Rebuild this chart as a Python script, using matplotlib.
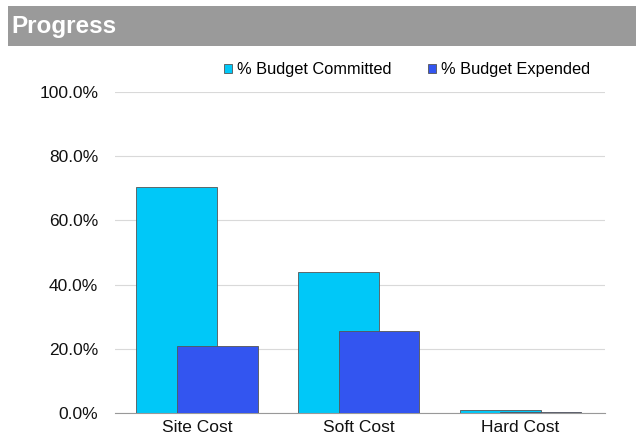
import numpy as np
from matplotlib import pyplot as plt
from matplotlib.patches import Rectangle
from matplotlib.ticker import PercentFormatter

plt.rcParams['font.family'] = ['Liberation Sans', 'DejaVu Sans']

categories = ["Site Cost", "Soft Cost", "Hard Cost"]
committed = [0.704, 0.439, 0.010]
expended = [0.209, 0.255, 0.003]

fig = plt.figure(figsize=(6.44, 4.42), dpi=100)

# grey title bar
fig.patches.append(Rectangle((0.0124, 0.896), 0.975, 0.0905, transform=fig.transFigure,
                             facecolor="#9a9a9a", edgecolor="none"))
fig.text(0.018, 0.94, "Progress", color="white", fontsize=17.5, fontweight="bold",
         va="center", ha="left")

ax = fig.add_axes([0.1786, 0.0656, 0.7604, 0.7263])
x = np.arange(len(categories))
ax.bar(x - 0.125, committed, width=0.5, color="#00c8f8", edgecolor="#555555",
       linewidth=0.6, label="% Budget Committed", zorder=2)
ax.bar(x + 0.125, expended, width=0.5, color="#3355f0", edgecolor="#555555",
       linewidth=0.6, label="% Budget Expended", zorder=3)

ax.set_xlim(-0.506, 2.52)
ax.set_ylim(0, 1.0)
ax.set_yticks(np.arange(0, 1.01, 0.2))
ax.yaxis.set_major_formatter(PercentFormatter(1.0, decimals=1))
ax.set_xticks(x)
ax.set_xticklabels(categories)
ax.tick_params(axis="both", length=0, labelsize=12.5, colors="#111111")
ax.tick_params(axis="y", pad=12)
ax.tick_params(axis="x", pad=5)
ax.grid(axis="y", color="#d9d9d9", linewidth=0.8, zorder=0)
for s in ["top", "right", "left"]:
    ax.spines[s].set_visible(False)
ax.spines["bottom"].set_color("#999999")

ax.legend(loc="lower right", bbox_to_anchor=(1.0, 1.0), ncol=2, frameon=False,
          fontsize=11.8, handlelength=0.5, handleheight=0.5, handletextpad=0.3,
          columnspacing=2.2, borderaxespad=0.5)

fig.savefig("out.png", dpi=100)
